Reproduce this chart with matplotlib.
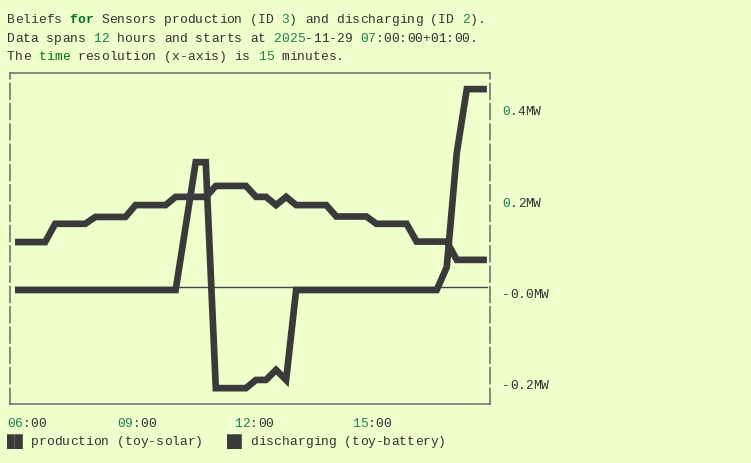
#!/usr/bin/env python3
"""
Réplica del gráfico de consola: producción (toy-solar) y descarga (toy-battery)
"""

import numpy as np
import pandas as pd
import matplotlib
matplotlib.use('Agg')
import matplotlib.pyplot as plt
import matplotlib.dates as mdates
from matplotlib.transforms import offset_copy

# ============================================================================
# DATOS
# ============================================================================

inicio_utc = '2025-11-29 06:00'   # 07:00+01:00
resolucion = '15min'

produccion_MW = [
    0.105, 0.105, 0.105, 0.105,
    0.145, 0.145, 0.145, 0.145,
    0.160, 0.160, 0.160, 0.160,
    0.186, 0.186, 0.186, 0.186,
    0.204, 0.204, 0.204, 0.204,
    0.228, 0.228, 0.228, 0.228,
    0.204, 0.204, 0.186, 0.204,
    0.186, 0.186, 0.186, 0.186,
    0.161, 0.161, 0.161, 0.161,
    0.145, 0.145, 0.145, 0.145,
    0.106, 0.106, 0.106, 0.106,
    0.066, 0.066, 0.066, 0.066,
]

descarga_MW = [
    0.0, 0.0, 0.0, 0.0,
    0.0, 0.0, 0.0, 0.0,
    0.0, 0.0, 0.0, 0.0,
    0.0, 0.0, 0.0, 0.0,
    0.0, 0.14, 0.28, 0.28,
    -0.215, -0.215, -0.215, -0.215,
    -0.197, -0.197, -0.175, -0.197,
    0.0, 0.0, 0.0, 0.0,
    0.0, 0.0, 0.0, 0.0,
    0.0, 0.0, 0.0, 0.0,
    0.0, 0.0, 0.0, 0.05,
    0.30, 0.44, 0.44, 0.44,
]

horas_ticks = ['06:00', '09:00', '12:00', '15:00']
valores_ticks = [0.4, 0.2, 0.0, -0.2]
etiquetas_ticks = ['0.4MW', '0.2MW', '-0.0MW', '-0.2MW']

# ============================================================================
# ESTILO
# ============================================================================

ANCHO_FIG, ALTO_FIG = 751, 463
ANCHO_CHAR = 7.84           # px por carácter
FUENTE = ['Liberation Mono', 'DejaVu Sans Mono']
TAM = 9.4

FONDO = '#eeffcc'
GRIS = '#333333'
VERDE_NUM = '#208050'
VERDE_KW = '#007020'
LINEA = '#3a3a3a'
MARCO = '#6a6a6a'


def texto_coloreado(fig, x_px, y_px, partes):
    """Escribe texto monoespaciado carácter a carácter sobre una rejilla fija."""
    col = 0
    for texto, color, negrita in partes:
        for letra in texto:
            if letra != ' ':
                fig.text((x_px + col * ANCHO_CHAR) / ANCHO_FIG, 1 - y_px / ALTO_FIG, letra,
                         color=color, fontweight='bold' if negrita else 'normal',
                         fontsize=TAM, family=FUENTE, ha='left', va='baseline')
            col += 1


# ============================================================================
# GRÁFICO
# ============================================================================

def main():
    tiempos = pd.date_range(inicio_utc, periods=len(produccion_MW), freq=resolucion)
    x = mdates.date2num(tiempos.to_pydatetime())
    paso = x[1] - x[0]

    fig = plt.figure(figsize=(ANCHO_FIG / 100, ALTO_FIG / 100), dpi=100, facecolor=FONDO)
    ax = fig.add_axes([10 / ANCHO_FIG, (ALTO_FIG - 404) / ALTO_FIG,
                       480 / ANCHO_FIG, 331 / ALTO_FIG])
    ax.set_facecolor(FONDO)

    ax.set_xlim(x[0] - 0.5 * paso, x[0] + 47.31 * paso)
    ax.set_ylim(-0.2497, 0.4753)

    # línea del cero (queda tapada donde la serie vale cero)
    cero = offset_copy(ax.transData, fig=fig, y=3, units='dots')
    ax.plot([x[0], x[-1]], [0, 0], color='#444444', lw=1.0, transform=cero, zorder=1)

    ax.plot(x, produccion_MW, color=LINEA, lw=4.8, solid_capstyle='butt',
            solid_joinstyle='miter', zorder=3)
    ax.plot(x, descarga_MW, color=LINEA, lw=4.8, solid_capstyle='butt',
            solid_joinstyle='miter', zorder=3)

    ax.set_xticks([])
    ax.set_yticks([])
    for lado in ax.spines.values():
        lado.set_color(MARCO)
        lado.set_linewidth(1.1)
    for lado in ('left', 'right'):
        ax.spines[lado].set_linestyle((0, (10.4, 2.9)))

    # cabecera
    texto_coloreado(fig, 7, 23.3, [
        ('Beliefs ', GRIS, False), ('for', VERDE_KW, True),
        (' Sensors production (ID ', GRIS, False), ('3', VERDE_NUM, False),
        (') and discharging (ID ', GRIS, False), ('2', VERDE_NUM, False),
        (').', GRIS, False)])
    texto_coloreado(fig, 7, 41.7, [
        ('Data spans ', GRIS, False), ('12', VERDE_NUM, False),
        (' hours and starts at ', GRIS, False), ('2025', VERDE_NUM, False),
        ('-11-29 ', GRIS, False), ('07', VERDE_NUM, False),
        (':00:00+01:00.', GRIS, False)])
    texto_coloreado(fig, 7, 60.0, [
        ('The ', GRIS, False), ('time', VERDE_KW, False),
        (' resolution (x-axis) is ', GRIS, False), ('15', VERDE_NUM, False),
        (' minutes.', GRIS, False)])

    # etiquetas del eje y (a la derecha)
    for valor, etiqueta in zip(valores_ticks, etiquetas_ticks):
        y_px = ALTO_FIG - ax.transData.transform((x[0], valor))[1] + 8
        if etiqueta[0].isdigit():
            partes = [(etiqueta[0], VERDE_NUM, False), (etiqueta[1:], GRIS, False)]
        else:
            partes = [(etiqueta, GRIS, False)]
        texto_coloreado(fig, 502, y_px, partes)

    # etiquetas del eje x, ajustadas a la rejilla de caracteres
    for hora in horas_ticks:
        t = mdates.date2num(pd.Timestamp(inicio_utc[:11] + hora).to_pydatetime())
        x_px = ax.transData.transform((t, 0))[0]
        col = max(0, int(np.floor((x_px - 7) / ANCHO_CHAR - 2.5 + 0.2)))
        hh, mm = hora.split(':')
        texto_coloreado(fig, 7 + col * ANCHO_CHAR, 426.7,
                        [(hh, VERDE_NUM, False), (':' + mm, GRIS, False)])

    # leyenda
    texto_coloreado(fig, 7, 445, [
        ('██', LINEA, False), (' production (toy-solar)', GRIS, False),
        ('   ██', LINEA, False), (' discharging (toy-battery)', GRIS, False)])

    fig.savefig('out.png', dpi=100, facecolor=FONDO)


if __name__ == '__main__':
    main()
